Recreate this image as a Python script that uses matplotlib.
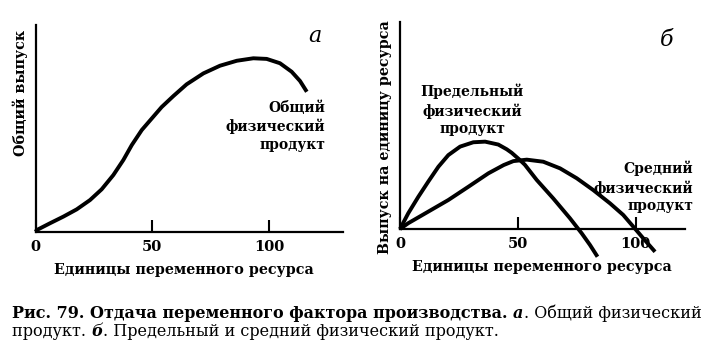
import matplotlib
matplotlib.use("Agg")
import matplotlib.pyplot as plt

# --- data (x: units of resource, y: % of axis height) ---
total_x = [0, 0.5, 6.2, 11.9, 17.6, 23.3, 28.3, 33.3, 37.6, 41.2, 45.5, 50.4, 54.0,
           59.0, 64.7, 71.9, 79.0, 86.2, 93.3, 99.0, 104.7, 109.7, 113.3, 116.2]
total_y = [0, 0.8, 4.1, 7.3, 10.8, 15.3, 20.5, 27.4, 34.7, 41.9, 49.2, 55.6, 60.3,
           65.6, 71.3, 76.6, 80.3, 82.7, 83.9, 83.6, 81.5, 77.4, 72.9, 67.7]

marg_x = [0, 3.5, 7.8, 12.0, 16.3, 20.5, 25.5, 31.1, 36.1, 41.7, 45.3, 47.4, 50.9,
          53.0, 58.0, 65.0, 72.1, 77.1, 80.6, 83.8]
marg_y = [0, 7.6, 15.6, 22.9, 30.1, 35.7, 39.8, 41.9, 42.2, 40.8, 38.5, 36.8, 33.3,
          31.0, 23.7, 14.8, 5.2, -2.1, -7.7, -13.4]

avg_x = [0, 3.5, 12.0, 20.5, 29.0, 37.5, 44.0, 48.1, 53.8, 60.8, 67.9, 75.0, 82.0,
         89.1, 94.7, 99.0, 103.2, 108.2]
avg_y = [0, 2.8, 8.4, 14.0, 20.4, 26.9, 30.9, 32.8, 33.5, 32.5, 29.3, 24.5, 18.8,
         12.4, 6.8, 1.1, -4.5, -11.0]

xticks_vals = [0, 50, 100]
xlabel = "Единицы переменного ресурса"
ylabel_a = "Общий выпуск"
ylabel_b = "Выпуск на единицу ресурса"
label_total = "Общий\nфизический\nпродукт"
label_marg = "Предельный\nфизический\nпродукт"
label_avg = "Средний\nфизический\nпродукт"
caption1 = [("Рис. 79. Отдача переменного фактора производства. ", "bold", "normal"),
            ("а", "bold", "italic"),
            (". Общий физический", "normal", "normal")]
caption2 = [("продукт. ", "normal", "normal"),
            ("б", "bold", "italic"),
            (". Предельный и средний физический продукт.", "normal", "normal")]

W, H = 720, 354
plt.rcParams['font.family'] = ['DejaVu Serif']
fig = plt.figure(figsize=(W / 100, H / 100), dpi=100)


def px(x, y):
    return x / W, 1 - y / H


def setup(ax, xmax):
    ax.set_xlim(0, xmax)
    ax.set_ylim(0, 100)
    for s in ['top', 'right']:
        ax.spines[s].set_visible(False)
    for s in ['left', 'bottom']:
        ax.spines[s].set_linewidth(1.6)
    ax.set_yticks([])
    ax.set_xticks(xticks_vals)
    ax.set_xticklabels([str(v) for v in xticks_vals], fontsize=10.5, fontweight='bold')
    ax.tick_params(axis='x', direction='in', length=8.5, width=1.5, pad=6)
    ax.patch.set_visible(False)


lw = 2.8
line_kw = dict(color='black', lw=lw, solid_capstyle='butt', solid_joinstyle='round', clip_on=False)

# panel a
ax1 = fig.add_axes([35.6 / W, 1 - 231.7 / H, 307.4 / W, 206.7 / H])
setup(ax1, 307.4 / 2.334)
ax1.plot(total_x, total_y, **line_kw)

# panel б
ax2 = fig.add_axes([400 / W, 1 - 229 / H, 285 / W, 207 / H])
setup(ax2, 285 / 2.357)
ax2.plot(marg_x, marg_y, **line_kw)
ax2.plot(avg_x, avg_y, **line_kw)

bold = dict(fontsize=10.3, fontweight='bold')
fig.text(*px(184, 270), xlabel, ha='center', va='center', **bold)
fig.text(*px(542, 267), xlabel, ha='center', va='center', **bold)
fig.text(*px(20, 93), ylabel_a, ha='center', va='center', rotation=90, **bold)
fig.text(*px(385, 137), ylabel_b, ha='center', va='center', rotation=90, **bold)

lab = dict(fontsize=10, fontweight='bold', linespacing=1.3)
fig.text(*px(325, 126), label_total, ha='right', va='center', multialignment='right', **lab)
fig.text(*px(472, 110), label_marg, ha='center', va='center', multialignment='center', **lab)
fig.text(*px(693, 187), label_avg, ha='right', va='center', multialignment='right', **lab)

fig.text(*px(315, 36), "а", ha='center', va='center', fontsize=16, style='italic')
fig.text(*px(667, 40), "б", ha='center', va='center', fontsize=16, style='italic')

# caption, written piece by piece so that fonts can change inside a line
renderer = fig.canvas.get_renderer()


def put_line(pieces, x0, y, size):
    x = x0
    for txt, weight, style in pieces:
        t = fig.text(*px(x, y), txt, ha='left', va='center', fontsize=size,
                     fontweight=weight, style=style)
        x += t.get_window_extent(renderer).width
    return x


cap_size = 11.5
put_line(caption1, 12, 313, cap_size)
put_line(caption2, 12, 332, cap_size)

fig.savefig("out.png", dpi=100)
